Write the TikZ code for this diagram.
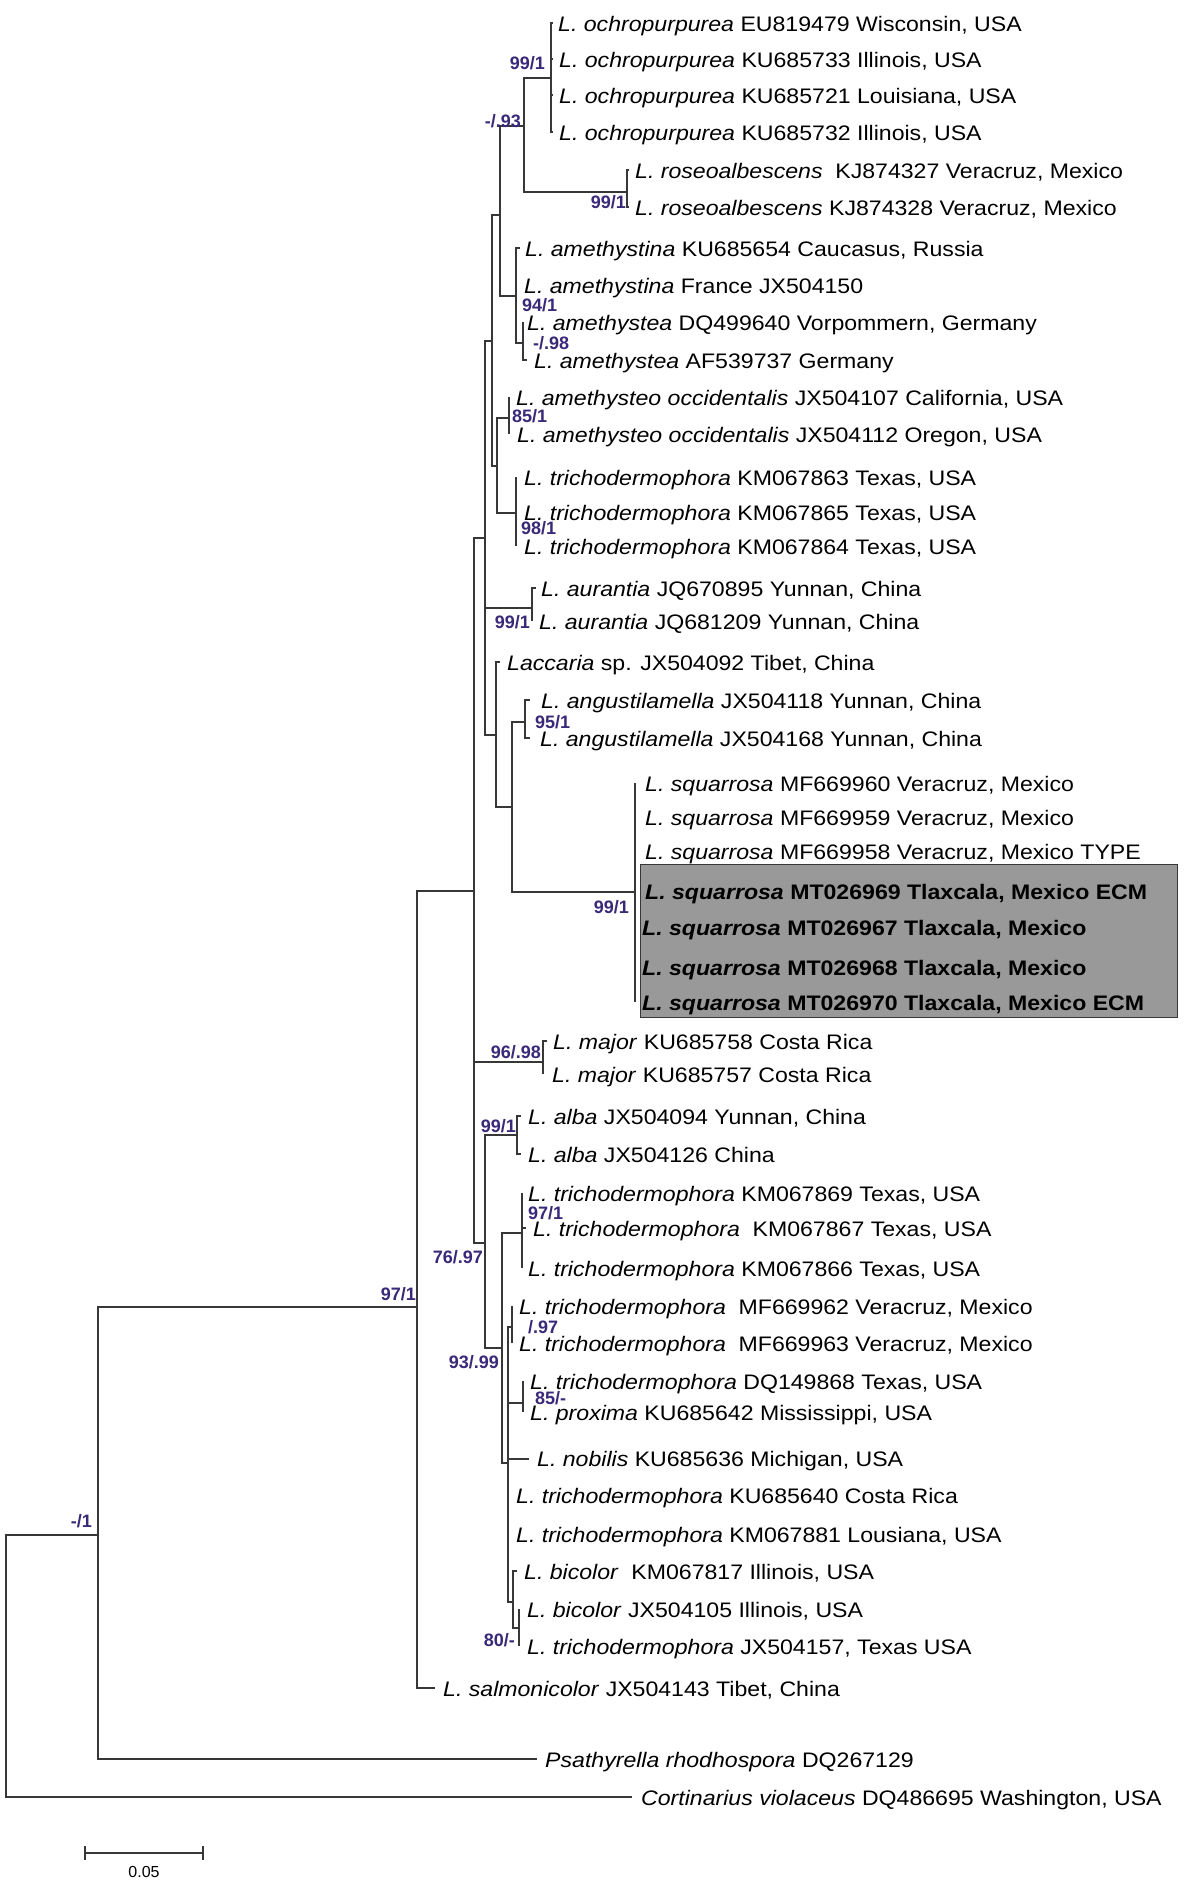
\documentclass[tikz,border=0pt]{standalone}
\usepackage{fontspec}
\setmainfont{Liberation Sans}[FakeStretch=1.1]
\newfontfamily\lblfont{Liberation Sans}
\definecolor{bscol}{RGB}{58,40,120}
\definecolor{linecol}{RGB}{55,55,55}
\tikzset{
  tree/.style={draw=linecol, line width=1.2pt},
  tip/.style={anchor=base west, inner sep=0pt, font=\fontsize{21}{21}\selectfont},
  bs/.style={text=bscol, inner sep=0pt, font=\lblfont\bfseries\fontsize{18}{18}\selectfont},
  bsl/.style={bs, anchor=west},
  bsr/.style={bs, anchor=east},
  hlbox/.style={draw=linecol, line width=1.2pt, fill=black!40, inner sep=0pt},
}
\begin{document}
\begin{tikzpicture}[x=1pt,y=-1pt]
\useasboundingbox (0,0) rectangle (1200,1903);
% highlight box
\node[hlbox, anchor=north west, minimum width=537pt, minimum height=153pt] (box) at (640,864) {};
% internal nodes
\coordinate (root) at (6,1666);
\coordinate (B) at (98,1535);
\coordinate (C) at (417,1307);
\coordinate (D) at (474,891);
\coordinate (E) at (485,538);
\coordinate (F) at (492,341);
\coordinate (H) at (500,215);
\coordinate (J) at (524,126);
\coordinate (Och) at (551,78);
\coordinate (Ros) at (627,192);
\coordinate (K) at (516,296);
\coordinate (L) at (523,343);
\coordinate (I) at (497,466);
\coordinate (M) at (509,418);
\coordinate (N) at (516,513);
\coordinate (Au) at (532,608);
\coordinate (G) at (496,735);
\coordinate (O) at (512,807);
\coordinate (P) at (525,722);
\coordinate (Q) at (635,892);
\coordinate (Mj) at (543,1062);
\coordinate (R) at (485,1243);
\coordinate (Al) at (517,1135);
\coordinate (S) at (502,1348);
\coordinate (T) at (522,1233);
\coordinate (U) at (508,1463);
\coordinate (V) at (512,1327);
\coordinate (W) at (523,1403);
\coordinate (Y) at (513,1602);
\coordinate (X) at (519,1628);
% branch ends
\coordinate (e1) at (553,23);
\coordinate (e2) at (553,59);
\coordinate (e3) at (553,95);
\coordinate (e4) at (553,132);
\coordinate (e5) at (629,170);
\coordinate (e6) at (629,207);
\coordinate (e7) at (520,248);
\coordinate (e8) at (516,285);
\coordinate (e9) at (523,322);
\coordinate (e10) at (527,360);
\coordinate (e11) at (509,397);
\coordinate (e12) at (509,434);
\coordinate (e13) at (516,477);
\coordinate (e14) at (516,512);
\coordinate (e15) at (516,546);
\coordinate (e16) at (536,588);
\coordinate (e17) at (532,621);
\coordinate (e18) at (500,662);
\coordinate (e19) at (530,700);
\coordinate (e20) at (530,738);
\coordinate (e21) at (635,783);
\coordinate (e22) at (635,817);
\coordinate (e23) at (635,851);
\coordinate (e24) at (635,891);
\coordinate (e25) at (635,927);
\coordinate (e26) at (635,967);
\coordinate (e27) at (635,1002);
\coordinate (e28) at (547,1041);
\coordinate (e29) at (543,1074);
\coordinate (e30) at (521,1116);
\coordinate (e31) at (521,1154);
\coordinate (e32) at (522,1193);
\coordinate (e33) at (526,1228);
\coordinate (e34) at (522,1268);
\coordinate (e35) at (512,1306);
\coordinate (e36) at (512,1343);
\coordinate (e37) at (523,1381);
\coordinate (e38) at (523,1412);
\coordinate (e39) at (529,1459);
\coordinate (e40) at (508,1495);
\coordinate (e41) at (508,1534);
\coordinate (e42) at (517,1571);
\coordinate (e43) at (519,1609);
\coordinate (e44) at (519,1646);
\coordinate (e45) at (435,1688);
\coordinate (e46) at (537,1759);
\coordinate (e47) at (632,1797);
% tree
\draw[tree] (root) |- (B) (root) |- (e47);
\draw[tree] (B) |- (C) (B) |- (e46);
\draw[tree] (C) |- (D) (C) |- (e45);
\draw[tree] (D) |- (E) (D) |- (Mj) (D) |- (R);
\draw[tree] (E) |- (F) (E) |- (Au) (E) |- (G);
\draw[tree] (F) |- (H) (F) |- (I);
\draw[tree] (H) |- (J) (H) |- (K);
\draw[tree] (J) |- (Och) (J) |- (Ros);
\draw[tree] (Och) |- (e1) (Och) |- (e2) (Och) |- (e3) (Och) |- (e4);
\draw[tree] (Ros) |- (e5) (Ros) |- (e6);
\draw[tree] (K) |- (e7) (K) |- (e8) (K) |- (L);
\draw[tree] (L) |- (e9) (L) |- (e10);
\draw[tree] (I) |- (M) (I) |- (N);
\draw[tree] (M) |- (e11) (M) |- (e12);
\draw[tree] (N) |- (e13) (N) |- (e14) (N) |- (e15);
\draw[tree] (Au) |- (e16) (Au) |- (e17);
\draw[tree] (G) |- (e18) (G) |- (O);
\draw[tree] (O) |- (P) (O) |- (Q);
\draw[tree] (P) |- (e19) (P) |- (e20);
\draw[tree] (Q) |- (e21) (Q) |- (e27);
\draw[tree] (Mj) |- (e28) (Mj) |- (e29);
\draw[tree] (R) |- (Al) (R) |- (S);
\draw[tree] (Al) |- (e30) (Al) |- (e31);
\draw[tree] (S) |- (T) (S) |- (U);
\draw[tree] (T) |- (e32) (T) |- (e33) (T) |- (e34);
\draw[tree] (U) |- (V) (U) |- (W) (U) |- (e39) (U) |- (e40) (U) |- (e41) (U) |- (Y);
\draw[tree] (V) |- (e35) (V) |- (e36);
\draw[tree] (W) |- (e37) (W) |- (e38);
\draw[tree] (Y) |- (e42) (Y) |- (X);
\draw[tree] (X) |- (e43) (X) |- (e44);
% tip labels
\node[tip] (t1) at (558,31) {\textit{L. ochropurpurea} EU819479 Wisconsin, USA};
\node[tip] (t2) at (559,67) {\textit{L. ochropurpurea} KU685733 Illinois, USA};
\node[tip] (t3) at (559,103) {\textit{L. ochropurpurea} KU685721 Louisiana, USA};
\node[tip] (t4) at (559,140) {\textit{L. ochropurpurea} KU685732 Illinois, USA};
\node[tip] (t5) at (635,178) {\textit{L. roseoalbescens}\hspace{0.3em} KJ874327 Veracruz, Mexico};
\node[tip] (t6) at (635,215) {\textit{L. roseoalbescens} KJ874328 Veracruz, Mexico};
\node[tip] (t7) at (525,256) {\textit{L. amethystina} KU685654 Caucasus, Russia};
\node[tip] (t8) at (524,293) {\textit{L. amethystina} France JX504150};
\node[tip] (t9) at (527,330) {\textit{L. amethystea} DQ499640 Vorpommern, Germany};
\node[tip] (t10) at (534,368) {\textit{L. amethystea} AF539737 Germany};
\node[tip] (t11) at (516,405) {\textit{L. amethysteo occidentalis} JX504107 California, USA};
\node[tip] (t12) at (517,442) {\textit{L. amethysteo occidentalis} JX504112 Oregon, USA};
\node[tip] (t13) at (524,485) {\textit{L. trichodermophora} KM067863 Texas, USA};
\node[tip] (t14) at (524,520) {\textit{L. trichodermophora} KM067865 Texas, USA};
\node[tip] (t15) at (524,554) {\textit{L. trichodermophora} KM067864 Texas, USA};
\node[tip] (t16) at (541,596) {\textit{L. aurantia} JQ670895 Yunnan, China};
\node[tip] (t17) at (539,629) {\textit{L. aurantia} JQ681209 Yunnan, China};
\node[tip] (t18) at (507,670) {\textit{Laccaria} sp. JX504092 Tibet, China};
\node[tip] (t19) at (541,708) {\textit{L. angustilamella} JX504118 Yunnan, China};
\node[tip] (t20) at (540,746) {\textit{L. angustilamella} JX504168 Yunnan, China};
\node[tip] (t21) at (645,791) {\textit{L. squarrosa} MF669960 Veracruz, Mexico};
\node[tip] (t22) at (645,825) {\textit{L. squarrosa} MF669959 Veracruz, Mexico};
\node[tip] (t23) at (645,859) {\textit{L. squarrosa} MF669958 Veracruz, Mexico TYPE};
\node[tip] (t24) at (645,899) {\bfseries\textit{L. squarrosa} MT026969 Tlaxcala, Mexico ECM};
\node[tip] (t25) at (642,935) {\bfseries\textit{L. squarrosa} MT026967 Tlaxcala, Mexico};
\node[tip] (t26) at (642,975) {\bfseries\textit{L. squarrosa} MT026968 Tlaxcala, Mexico};
\node[tip] (t27) at (642,1010) {\bfseries\textit{L. squarrosa} MT026970 Tlaxcala, Mexico ECM};
\node[tip] (t28) at (553,1049) {\textit{L. major} KU685758 Costa Rica};
\node[tip] (t29) at (552,1082) {\textit{L. major} KU685757 Costa Rica};
\node[tip] (t30) at (528,1124) {\textit{L. alba} JX504094 Yunnan, China};
\node[tip] (t31) at (528,1162) {\textit{L. alba} JX504126 China};
\node[tip] (t32) at (528,1201) {\textit{L. trichodermophora} KM067869 Texas, USA};
\node[tip] (t33) at (533,1236) {\textit{L. trichodermophora}\hspace{0.3em} KM067867 Texas, USA};
\node[tip] (t34) at (528,1276) {\textit{L. trichodermophora} KM067866 Texas, USA};
\node[tip] (t35) at (519,1314) {\textit{L. trichodermophora}\hspace{0.3em} MF669962 Veracruz, Mexico};
\node[tip] (t36) at (519,1351) {\textit{L. trichodermophora}\hspace{0.3em} MF669963 Veracruz, Mexico};
\node[tip] (t37) at (530,1389) {\textit{L. trichodermophora} DQ149868 Texas, USA};
\node[tip] (t38) at (530,1420) {\textit{L. proxima} KU685642 Mississippi, USA};
\node[tip] (t39) at (537,1466) {\textit{L. nobilis} KU685636 Michigan, USA};
\node[tip] (t40) at (516,1503) {\textit{L. trichodermophora} KU685640 Costa Rica};
\node[tip] (t41) at (516,1542) {\textit{L. trichodermophora} KM067881 Lousiana, USA};
\node[tip] (t42) at (524,1579) {\textit{L. bicolor}\hspace{0.3em} KM067817 Illinois, USA};
\node[tip] (t43) at (527,1617) {\textit{L. bicolor} JX504105 Illinois, USA};
\node[tip] (t44) at (527,1654) {\textit{L. trichodermophora} JX504157, Texas USA};
\node[tip] (t45) at (443,1696) {\textit{L. salmonicolor} JX504143 Tibet, China};
\node[tip] (t46) at (545,1767) {\textit{Psathyrella rhodhospora} DQ267129};
\node[tip] (t47) at (641,1805) {\textit{Cortinarius violaceus} DQ486695 Washington, USA};
% support values
\node[bsr] (s1) at (545,63) {99/1};
\node[bsr] (s2) at (521,121) {-/.93};
\node[bsr] (s3) at (626,202) {99/1};
\node[bsl] (s4) at (522,305) {94/1};
\node[bsl] (s5) at (533,343) {-/.98};
\node[bsl] (s6) at (512,416) {85/1};
\node[bsl] (s7) at (521,528) {98/1};
\node[bsr] (s8) at (530,622) {99/1};
\node[bsl] (s9) at (535,722) {95/1};
\node[bsr] (s10) at (629,907) {99/1};
\node[bsr] (s11) at (541,1052) {96/.98};
\node[bsr] (s12) at (516,1126) {99/1};
\node[bsl] (s13) at (528,1213) {97/1};
\node[bsr] (s14) at (483,1257) {76/.97};
\node[bsr] (s15) at (499,1362) {93/.99};
\node[bsl] (s16) at (528,1327) {/.97};
\node[bsl] (s17) at (535,1398) {85/-};
\node[bsr] (s18) at (515,1640) {80/-};
\node[bsr] (s19) at (416,1294) {97/1};
\node[bsr] (s20) at (92,1521) {-/1};
% scale bar
\coordinate (sb1) at (85,1853);
\coordinate (sb2) at (203,1853);
\draw[tree] (sb1) -- (sb2);
\draw[tree] ([yshift=7pt]sb1) -- ([yshift=-7pt]sb1);
\draw[tree] ([yshift=7pt]sb2) -- ([yshift=-7pt]sb2);
\node[inner sep=0pt, font=\lblfont\fontsize{16}{16}\selectfont] (sbl) at (144,1872) {0.05};
\end{tikzpicture}
\end{document}
